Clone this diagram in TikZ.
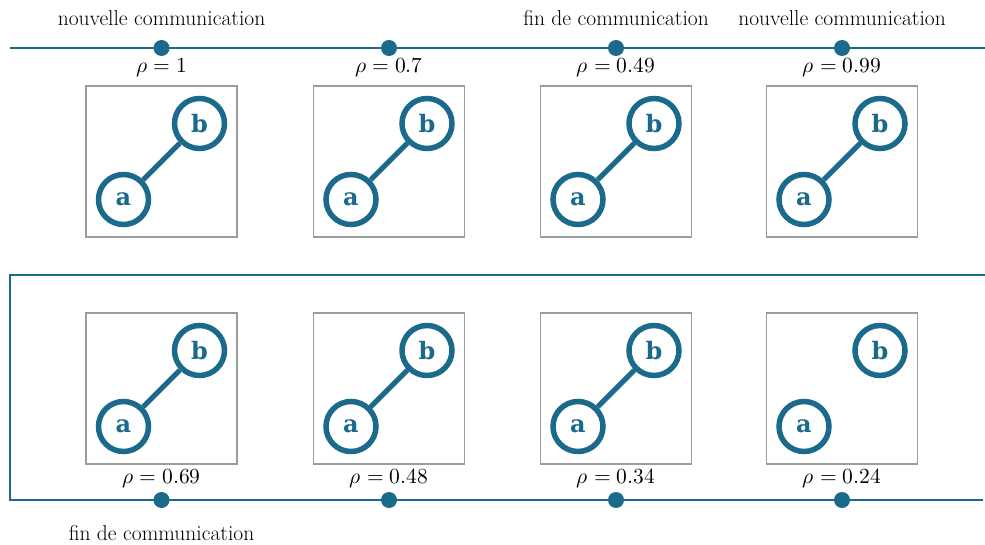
\documentclass[tikz,border=0pt]{standalone}
\usepackage{fontspec}
\usepackage{unicode-math}
\newfontfamily\slabfont{DejaVu Serif}
\usetikzlibrary{calc}
\definecolor{linkblue}{HTML}{1B6A8B}
\definecolor{framegrey}{HTML}{9C9C9C}
\tikzset{
  peer/.style={circle,draw=linkblue,line width=5.5pt,minimum size=50pt,inner sep=0pt,
    text=linkblue,font=\slabfont\bfseries\fontsize{24}{24}\selectfont},
  link/.style={draw=linkblue,line width=5pt},
  tick/.style={circle,fill=linkblue,minimum size=16pt,inner sep=0pt},
  timeline/.style={draw=linkblue,line width=1.1pt},
  frame/.style={draw=framegrey,line width=1.2pt,minimum size=151pt,inner sep=0pt},
  lbl/.style={font=\fontsize{21.5}{24}\selectfont,inner sep=0pt},
}

\begin{document}
\begin{tikzpicture}[x=1pt,y=-1pt]
  \useasboundingbox (0,0) rectangle (985,545);
  % timelines
  \coordinate (ts) at (10,48);
  \coordinate (te) at (985,48);
  \coordinate (bs) at (985,275);
  \coordinate (bc) at (10,275);
  \coordinate (bd) at (10,500);
  \coordinate (be) at (983,500);
  \draw[timeline] (ts) -- (te);
  \draw[timeline] (bs) -- (bc) -- (bd) -- (be);
  % top row
  \foreach \x/\r [count=\i] in {161.5/1,389/0.7,616/0.49,842/0.99}{%
    \node[tick] (tt\i) at (\x,48) {};
    \node[lbl] (rt\i) at (\x,68) {$\rho = \r$};
    \node[frame] (ft\i) at (\x,161.5) {};
    \node[peer] (at\i) at ($(ft\i)+(-38,38)$) {a};
    \node[peer] (bt\i) at ($(ft\i)+(38,-38)$) {b};
    \draw[link] (at\i) -- (bt\i);
  }
  % bottom row
  \foreach \x/\r/\e [count=\i] in {161.5/0.69/1,389/0.48/1,616/0.34/1,842/0.24/0}{%
    \node[tick] (tb\i) at (\x,500) {};
    \node[lbl] (rb\i) at (\x,479) {$\rho = \r$};
    \node[frame] (fb\i) at (\x,388.5) {};
    \node[peer] (ab\i) at ($(fb\i)+(-38,38)$) {a};
    \node[peer] (bb\i) at ($(fb\i)+(38,-38)$) {b};
    \ifnum\e=1 \draw[link] (ab\i) -- (bb\i); \fi
  }
  % events
  \node[lbl] (ev1) at (161.5,18) {nouvelle communication};
  \node[lbl] (ev2) at (616,18) {fin de communication};
  \node[lbl] (ev3) at (842,18) {nouvelle communication};
  \node[lbl] (ev4) at (161.5,533) {fin de communication};
\end{tikzpicture}
\end{document}
